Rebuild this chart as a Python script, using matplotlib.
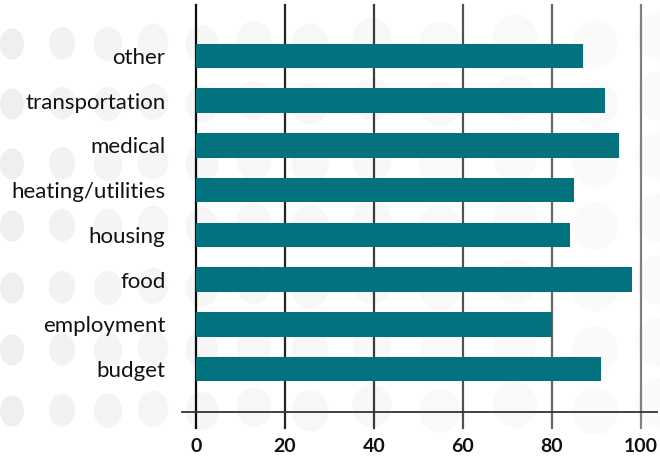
import matplotlib
matplotlib.use("Agg")
import matplotlib.pyplot as plt
from matplotlib.patches import Ellipse
import numpy as np

categories = ["budget", "employment", "food", "housing", "heating/utilities",
              "medical", "transportation", "other"]
values = [91, 80, 98, 84, 85, 95, 92, 87]
xticks = [0, 20, 40, 60, 80, 100]

bar_color = "#02737E"
plt.rcParams['font.family'] = ['Lato', 'DejaVu Sans']

W, H = 660, 458
fig = plt.figure(figsize=(W / 100, H / 100), dpi=100)
fig.patch.set_facecolor("white")

# decorative background dots (figure pixel coords, top-origin)
bg = fig.add_axes([0, 0, 1, 1], zorder=0)
bg.set_xlim(0, W)
bg.set_ylim(H, 0)
bg.axis("off")
cols = [12, 62, 108, 153, 202, 254, 310, 372, 440, 515, 595, 660]
rows = [44, 104, 164, 226, 288, 350, 411]
for j, cx in enumerate(cols):
    t = j / (len(cols) - 1)
    w = 24 + 24 * t
    h = 31 + 18 * t
    g = 0.937 + 0.045 * np.sqrt(t)
    for i, cy in enumerate(rows):
        dy = (-8 if (j % 2) else 0) * t
        bg.add_patch(Ellipse((cx, cy + dy), w, h, color=(g, g, g), lw=0))

ax = fig.add_axes([196 / W, 1 - 412 / H, 445 / W, 407 / H], zorder=1)
ax.patch.set_alpha(0)
y = np.arange(len(categories))
ax.barh(y, values, height=0.55, color=bar_color, zorder=3)
ax.set_xlim(0, 100)
ax.set_ylim(-0.96, len(categories) - 1 + 1.14)

for s in ax.spines.values():
    s.set_visible(False)

# vertical grid lines fading from black to grey
n = len(xticks)
for k, xv in enumerate(xticks):
    g = 0.05 + 0.45 * k / (n - 1)
    ax.plot([xv, xv], [-0.039, 1.0], transform=ax.get_xaxis_transform(),
            color=(g, g, g), lw=1.6, clip_on=False, zorder=2)

# baseline
ax.plot([-0.031, 1.036], [0, 0], transform=ax.transAxes, color="#333333",
        lw=1.3, clip_on=False, zorder=2)

ax.set_xticks(xticks)
ax.set_xticklabels([str(v) for v in xticks], fontsize=14, fontweight="bold",
                   color="#111111")
ax.tick_params(axis="x", length=0, pad=19)
ax.set_yticks(y)
ax.set_yticklabels(categories, fontsize=16, color="#111111")
ax.tick_params(axis="y", length=0, pad=22)

fig.savefig("out.png", dpi=100, facecolor="white")
